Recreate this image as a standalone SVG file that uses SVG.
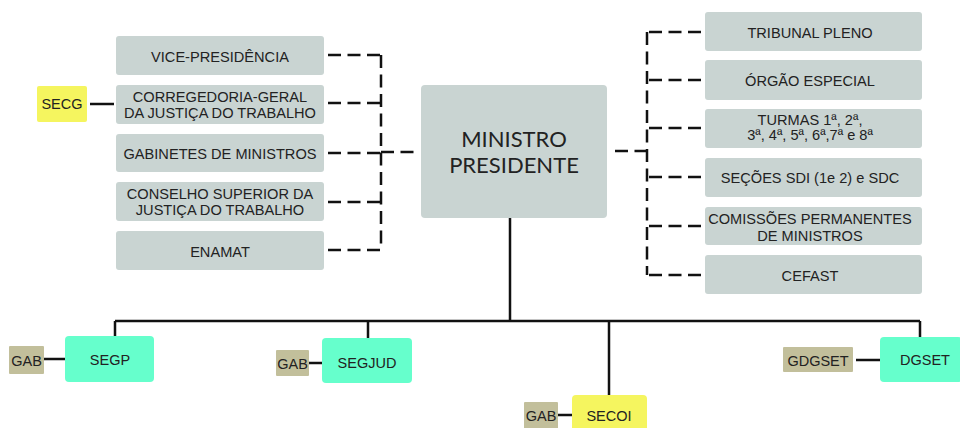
<svg xmlns="http://www.w3.org/2000/svg" width="960" height="428" viewBox="0 0 960 428">
<style>
.g{fill:#c9d4d2}
.grn{fill:#66ffcc}
.ylw{fill:#f5f55f}
.tan{fill:#c2bf9b}
.t{font-family:"Liberation Sans",Arial,sans-serif;font-size:14.6px;fill:#222;text-anchor:middle}
.s{font-family:"Liberation Sans",Arial,sans-serif;font-size:14.5px;fill:#222;text-anchor:middle}
.m{font-family:Lato,"Open Sans",sans-serif;font-size:22px;fill:#222;text-anchor:middle}
.dash{fill:none;stroke:#111;stroke-width:2.5;stroke-dasharray:13 6.5}
.solid{fill:none;stroke:#111;stroke-width:2.5}
</style>
<rect width="960" height="428" fill="#fff"/>
<g id="connectors">
<path class="dash" d="M328 55H381M328 103H381M328 153H381M328 202H381M328 250H381"/>
<path class="dash" d="M381 55V250"/>
<path class="dash" d="M381 152H417"/>
<path class="dash" d="M615 151H647"/>
<path class="dash" d="M647 32V275"/>
<path class="dash" d="M701 32H647M701 80H647M701 128H647M701 177H647M701 226H647M701 275H647"/>
<path class="solid" d="M90 104H114"/>
<path class="solid" d="M510 218V321M115 321H920M115 321V336M368 321V338M609 321V395M920 321V337"/>
<path class="solid" d="M44 359H65M309 363H322M558 415H572M856 360H880"/>
</g>
<g id="vice"><rect class="g" x="116" y="36" width="208" height="39" rx="3"/><text class="t" x="220" y="62">VICE-PRESIDÊNCIA</text></g>
<g id="corregedoria"><rect class="g" x="116" y="85" width="208" height="39" rx="3"/><text class="t" x="220" y="101.5">CORREGEDORIA-GERAL</text><text class="t" x="220" y="117.5">DA JUSTIÇA DO TRABALHO</text></g>
<g id="gabinetes"><rect class="g" x="116" y="134" width="208" height="38" rx="3"/><text class="t" x="220" y="159">GABINETES DE MINISTROS</text></g>
<g id="conselho"><rect class="g" x="116" y="182" width="208" height="39" rx="3"/><text class="t" x="220" y="198.5">CONSELHO SUPERIOR DA</text><text class="t" x="220" y="214.5">JUSTIÇA DO TRABALHO</text></g>
<g id="enamat"><rect class="g" x="116" y="231" width="208" height="39" rx="3"/><text class="t" x="220" y="256.5">ENAMAT</text></g>
<g id="secg"><rect class="ylw" x="37" y="86" width="50" height="36" rx="2"/><text class="s" x="62" y="109.3">SECG</text></g>
<g id="ministro"><rect class="g" x="421" y="85" width="186" height="133" rx="4"/><text class="m" x="514" y="147">MINISTRO</text><text class="m" x="514" y="173">PRESIDENTE</text></g>
<g id="tribunal"><rect class="g" x="705" y="12" width="217" height="39" rx="3"/><text class="t" x="810" y="37.5">TRIBUNAL PLENO</text></g>
<g id="orgao"><rect class="g" x="705" y="60" width="217" height="40" rx="3"/><text class="t" x="810" y="86">ÓRGÃO ESPECIAL</text></g>
<g id="turmas"><rect class="g" x="705" y="109" width="217" height="39" rx="3"/><text class="t" x="810" y="125">TURMAS 1ª, 2ª,</text><text class="t" x="810" y="140">3ª, 4ª, 5ª, 6ª,7ª e 8ª</text></g>
<g id="secoes"><rect class="g" x="705" y="158" width="217" height="39" rx="3"/><text class="t" x="810" y="183">SEÇÕES SDI (1e 2) e SDC</text></g>
<g id="comissoes"><rect class="g" x="705" y="207" width="217" height="38" rx="3"/><text class="t" x="810" y="224">COMISSÕES PERMANENTES</text><text class="t" x="810" y="240.5">DE MINISTROS</text></g>
<g id="cefast"><rect class="g" x="705" y="255" width="217" height="39" rx="3"/><text class="t" x="810" y="280.5">CEFAST</text></g>
<g id="segp"><rect class="grn" x="65" y="336" width="89" height="46" rx="4"/><text class="s" x="110" y="365">SEGP</text></g>
<g id="gab1"><rect class="tan" x="9" y="346" width="35" height="28" rx="1"/><text class="s" x="26.5" y="366">GAB</text></g>
<g id="segjud"><rect class="grn" x="322" y="338" width="90" height="45" rx="4"/><text class="s" x="367" y="368">SEGJUD</text></g>
<g id="gab2"><rect class="tan" x="276" y="350" width="33" height="26" rx="1"/><text class="s" x="292.5" y="369">GAB</text></g>
<g id="secoi"><rect class="ylw" x="572" y="395" width="75" height="40" rx="4"/><text class="s" x="609" y="421">SECOI</text></g>
<g id="gab3"><rect class="tan" x="524" y="402" width="34" height="30" rx="1"/><text class="s" x="541" y="421">GAB</text></g>
<g id="dgset"><rect class="grn" x="880" y="337" width="82" height="45" rx="4"/><text class="s" x="925" y="365">DGSET</text></g>
<g id="gdgset"><rect class="tan" x="783" y="347" width="70" height="25" rx="1"/><text class="s" x="818" y="365.5">GDGSET</text></g>
</svg>
